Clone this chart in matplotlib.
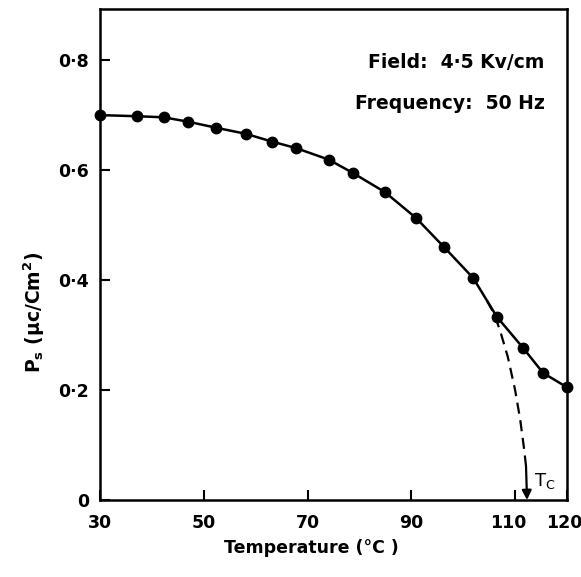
import numpy as np
import matplotlib
matplotlib.use("Agg")
import matplotlib.pyplot as plt
from matplotlib.transforms import ScaledTranslation

plt.rcParams.update({"font.family": "DejaVu Sans", "font.weight": "bold", "font.size": 13})

# measured spontaneous polarisation vs temperature
temp = [30, 37.1, 42.3, 47.0, 52.4, 58.1, 63.1, 67.8, 74.1, 78.7, 84.9, 90.9, 96.3, 101.9, 106.5, 111.5, 115.4, 120]
ps = [0.700, 0.698, 0.696, 0.688, 0.677, 0.666, 0.652, 0.640, 0.619, 0.595, 0.560, 0.513, 0.460, 0.404, 0.333, 0.277, 0.231, 0.205]

# extrapolated branch down to Tc
ext_t = [104.6, 106.0, 107.2, 108.6, 110.0, 111.0, 111.7, 112.1]
ext_p = [0.362, 0.338, 0.305, 0.260, 0.200, 0.145, 0.095, 0.062]
tc = 112.3

xticks = [30, 50, 70, 90, 110, 120]
yticks = [0, 0.2, 0.4, 0.6, 0.8]
ylabels = ["0", "0·2", "0·4", "0·6", "0·8"]

fig = plt.figure(figsize=(5.81, 5.77), dpi=100)
W, H = 581, 577
ax = fig.add_axes([100 / W, 1 - 500 / H, 467 / W, 491 / H])

ax.plot(temp, ps, "-", color="black", lw=1.8, zorder=3)
ax.plot(temp, ps, "o", color="black", ms=7.5, zorder=4, clip_on=False)
ax.plot(ext_t, ext_p, "--", color="black", lw=1.6, dashes=(5, 3))
ax.annotate("", xy=(tc, 0), xytext=(ext_t[-1], ext_p[-1]),
            arrowprops=dict(arrowstyle="-|>", color="black", lw=1.6, mutation_scale=14,
                            shrinkA=0, shrinkB=0))
ax.text(tc + 1.3, 0.035, "T$_\\mathregular{C}$", fontsize=13, ha="left", va="center", weight="normal")

ax.text(115.7, 0.795, "Field:  4·5 Kv/cm", ha="right", va="center", fontsize=13.5)
ax.text(115.7, 0.722, "Frequency:  50 Hz", ha="right", va="center", fontsize=13.5)

ax.set_xlim(30, 120)
ax.set_ylim(0, 0.893)
ax.set_xticks(xticks)
ax.set_xticklabels([str(t) for t in xticks])
ax.set_yticks(yticks)
ax.set_yticklabels(ylabels)
ax.tick_params(direction="in", length=7, width=1.5, labelsize=12.5, pad=10)
ax.tick_params(axis="y", pad=8)
for s in ax.spines.values():
    s.set_linewidth(1.8)

# nudge the crowded labels at the right end leftwards
lbls = ax.get_xticklabels()
lbls[4].set_transform(lbls[4].get_transform() + ScaledTranslation(-7 / 100, 0, fig.dpi_scale_trans))
lbls[5].set_transform(lbls[5].get_transform() + ScaledTranslation(-3 / 100, 0, fig.dpi_scale_trans))

fig.text(311 / W, 1 - 548 / H, "Temperature (°C )", ha="center", va="center", fontsize=12.5)
fig.text(34 / W, 1 - 312 / H, "P$_\\mathregular{s}$ (μc/Cm$^\\mathregular{2}$)", ha="center", va="center",
         rotation=90, fontsize=13.5)

fig.savefig("out.png", dpi=100, facecolor="white")
